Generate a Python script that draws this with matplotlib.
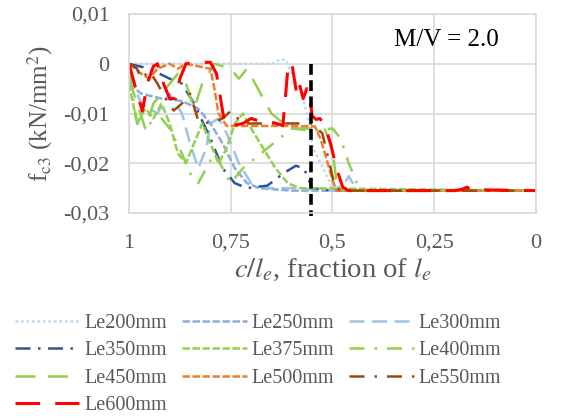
import numpy as np
import matplotlib.pyplot as plt

plt.rcParams['font.family'] = ['Liberation Serif', 'DejaVu Serif']
plt.rcParams['mathtext.fontset'] = 'stix'

# x = c/le (fraction), y = fc3 (kN/mm2)
le200_x = [1, 0.9, 0.8, 0.7, 0.65, 0.63, 0.615, 0.6, 0.575, 0.557, 0.548, 0.523, 0.5, 0.48, 0]
le200_y = [0, 0, 0, 0, 0, 0.0008, 0.0008, -0.002, -0.006, -0.012, -0.017, -0.021, -0.025, -0.0255, -0.0255]

le250_x = [1, 0.97, 0.92, 0.87, 0.83, 0.8, 0.77, 0.74, 0.71, 0.68, 0.6, 0.5, 0]
le250_y = [-0.004, -0.006, -0.007, -0.0075, -0.009, -0.012, -0.016, -0.021, -0.024, -0.025, -0.0255, -0.0255, -0.0255]

le300_x = [1, 0.97, 0.93, 0.9, 0.87, 0.85, 0.83, 0.81, 0.8, 0.78, 0.76, 0.73, 0.7, 0.66, 0.6, 0.5,
           0.47, 0.46, 0.45, 0.44, 0.43, 0]
le300_y = [-0.002, -0.008, -0.01, -0.006, -0.01, -0.016, -0.021, -0.017, -0.012, -0.011, -0.014, -0.02,
           -0.024, -0.025, -0.025, -0.0255, -0.024, -0.0226, -0.024, -0.0255, -0.0255, -0.0255]

le350_x = [1, 0.95, 0.9, 0.87, 0.84, 0.8, 0.77, 0.74, 0.71, 0.66, 0.62, 0.59, 0.57, 0.55, 0.5, 0]
le350_y = [0, -0.001, -0.003, -0.004, -0.008, -0.015, -0.021, -0.024, -0.025, -0.0245, -0.022, -0.0205,
           -0.021, -0.025, -0.0255, -0.0255]

le375_x = [1, 0.98, 0.96, 0.94, 0.92, 0.9, 0.88, 0.86, 0.84, 0.82, 0.8, 0.78, 0.76, 0.74, 0.72, 0.7,
           0.67, 0.64, 0.61, 0.58, 0]
le375_y = [-0.004, -0.012, -0.009, -0.011, -0.008, -0.012, -0.018, -0.02, -0.016, -0.012, -0.016, -0.02,
           -0.017, -0.012, -0.01, -0.013, -0.017, -0.021, -0.024, -0.025, -0.0255]

le400_x = [1, 0.98, 0.95, 0.92, 0.9, 0.87, 0.85, 0.83, 0.81, 0.79, 0.77, 0.75, 0.72, 0.69, 0.66, 0.63,
           0.6, 0.55, 0.5, 0.48, 0.46, 0.44, 0.42, 0]
le400_y = [-0.002, -0.012, -0.012, -0.011, -0.013, -0.018, -0.022, -0.024, -0.021, -0.018, -0.021, -0.024,
           -0.021, -0.019, -0.017, -0.015, -0.013, -0.0135, -0.013, -0.015, -0.02, -0.024, -0.0255, -0.0255]

le450_x = [1, 0.98, 0.96, 0.94, 0.92, 0.9, 0.88, 0.86, 0.84, 0.82, 0.79, 0.77, 0.75, 0.73, 0.71, 0.69,
           0.67, 0.65, 0.62, 0.6, 0.55, 0.52, 0.5, 0.49, 0.48, 0]
le450_y = [-0.003, -0.008, -0.013, -0.008, -0.006, -0.004, -0.002, -0.004, -0.009, -0.004, 0, -0.0005,
           -0.001, -0.003, -0.001, -0.004, -0.007, -0.01, -0.012, -0.013, -0.013, -0.013, -0.017, -0.024,
           -0.0255, -0.0255]

le500_x = [1, 0.97, 0.95, 0.93, 0.9, 0.88, 0.86, 0.83, 0.8, 0.79, 0.78, 0.76, 0.7, 0.6, 0.543, 0.53,
           0.515, 0.5, 0.49, 0]
le500_y = [0, -0.002, -0.003, -0.001, 0, -0.001, 0, -0.0005, -0.001, -0.005, -0.01, -0.0125, -0.0125,
           -0.0125, -0.0126, -0.015, -0.019, -0.0234, -0.0255, -0.0255]

le550_x = [1, 0.98, 0.97, 0.95, 0.93, 0.91, 0.89, 0.87, 0.85, 0.83, 0.8, 0.77, 0.75, 0.72, 0.65, 0.55,
           0.525, 0.51, 0.495, 0.48, 0]
le550_y = [0, -0.001, -0.003, -0.0015, -0.004, -0.007, -0.0094, -0.008, -0.006, -0.0114, -0.012, -0.011,
           -0.0095, -0.012, -0.012, -0.012, -0.014, -0.019, -0.0245, -0.0255, -0.0255]

le600_x = [1, 0.98, 0.967, 0.955, 0.94, 0.93, 0.915, 0.9, 0.885, 0.875, 0.86, 0.845, 0.8, 0.785, 0.775,
           0.765, 0.75, 0.72, 0.7, 0.68, 0.66, 0.63, 0.622, 0.617, 0.609, 0.6, 0.592, 0.587, 0.58, 0.572,
           0.563, 0.555, 0.55, 0.54, 0.531, 0.518, 0.505, 0.49, 0.475, 0.46, 0.4, 0.2, 0.18, 0.17, 0.16, 0]
le600_y = [0, -0.006, -0.0095, -0.004, -0.0005, 0, -0.004, -0.007, -0.007, -0.003, 0, 0.0002, 0.0003,
           -0.002, -0.007, -0.012, -0.0125, -0.012, -0.011, -0.0115, -0.0115, -0.0122, -0.0124, -0.008,
           -0.0004, 0.0002, -0.004, -0.0065, -0.0045, -0.007, -0.005, -0.007, -0.0105, -0.0112, -0.011,
           -0.0125, -0.016, -0.021, -0.0248, -0.0255, -0.0255, -0.0255, -0.0252, -0.0248, -0.0253, -0.0255]

labels = ['Le200mm', 'Le250mm', 'Le300mm', 'Le350mm', 'Le375mm', 'Le400mm',
          'Le450mm', 'Le500mm', 'Le550mm', 'Le600mm']
xs = [le200_x, le250_x, le300_x, le350_x, le375_x, le400_x, le450_x, le500_x, le550_x, le600_x]
ys = [le200_y, le250_y, le300_y, le350_y, le375_y, le400_y, le450_y, le500_y, le550_y, le600_y]
colors = ['#BDD7EE', '#8FAADC', '#9DC3E6', '#2F5597', '#92D050', '#92D050',
          '#92D050', '#ED7D31', '#9E480E', '#FF0000']
styles = [(0, (1, 1.2)), (0, (3, 1)), (0, (6, 3)), (0, (6, 3, 1, 3)), (0, (3, 1)),
          (0, (6, 4, 1, 4)), (0, (8, 5)), (0, (3, 1)), (0, (6, 4, 1, 4)), (0, (8, 5))]
widths = [1.8] * 9 + [2.2]

limit_x = 0.553

fig = plt.figure(figsize=(5.75, 4.18), dpi=100)
ax = fig.add_axes([0.2243, 0.4904, 0.7079, 0.4761])

lines = []
for x, y, c, ls, w, lab in zip(xs, ys, colors, styles, widths, labels):
    ln, = ax.plot(x, y, color=c, linestyle=ls, lw=w, label=lab)
    lines.append(ln)

ax.plot([limit_x, limit_x], [0, -0.0305], color='black', linestyle=(0, (3, 1.5)), lw=2.6, clip_on=False)

ax.set_xlim(1, 0)
ax.set_ylim(-0.03, 0.01)
ax.set_xticks([1, 0.75, 0.5, 0.25, 0])
ax.set_xticklabels(['1', '0,75', '0,5', '0,25', '0'])
ax.set_yticks([0.01, 0, -0.01, -0.02, -0.03])
ax.set_yticklabels(['0,01', '0', '-0,01', '-0,02', '-0,03'])
ax.tick_params(length=0, labelsize=16, labelcolor='#595959')
ax.tick_params(axis='x', pad=15)
ax.tick_params(axis='y', pad=14)
ax.grid(color='#D9D9D9', lw=1.2)
for s in ax.spines.values():
    s.set_color('#D9D9D9')
    s.set_linewidth(1.2)

ax.set_ylabel(r'f$_{\mathrm{c3}}$ (kN/mm$^{2}$)', fontsize=18, color='#595959', labelpad=6)
ax.set_xlabel(r'$c/l_e$, fraction of $l_e$', fontsize=20.5, color='#595959', labelpad=3)
ax.text(0.779, 0.869, 'M/V = 2.0', transform=ax.transAxes, fontsize=18, ha='center', va='center')

# row-wise legend order for 3 columns
order = [0, 3, 6, 9, 1, 4, 7, 2, 5, 8]
fig.legend([lines[i] for i in order], [labels[i] for i in order],
           loc='upper left', bbox_to_anchor=(0.026, 0.25), ncol=3, frameon=False,
           fontsize=14.5, labelcolor='#595959', handlelength=3.2, handletextpad=0.25,
           columnspacing=0.75, labelspacing=0.42, borderpad=0, borderaxespad=0)

fig.savefig('out.png', dpi=100)
